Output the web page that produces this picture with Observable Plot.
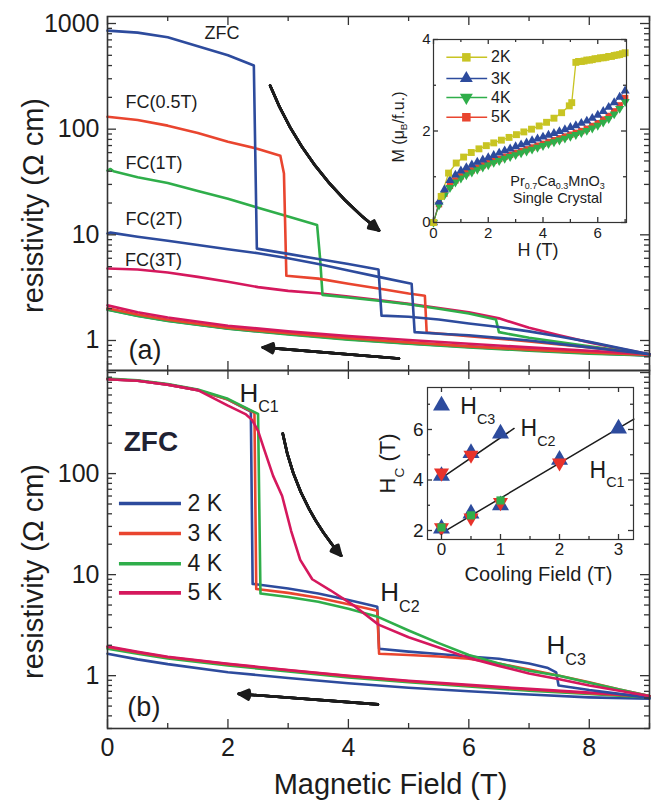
<!DOCTYPE html>
<html><head><meta charset="utf-8">
<script src="https://cdn.jsdelivr.net/npm/d3@7"></script>
<script src="https://cdn.jsdelivr.net/npm/@observablehq/plot@0.6"></script>
<style>
body{margin:0;background:#fff;font-family:"Liberation Sans",Arial,Helvetica,sans-serif;}
#wrap{position:relative;width:652px;height:800px;overflow:hidden;background:#fff;}
</style></head><body><div id="wrap"></div>
<script>
// ================= DATA =================
// ---- Panel (a): 2 K field sweeps after ZFC / FC (up-sweep then down-sweep)
const aZFC_H = [0, 0.5, 1, 1.5, 2, 2.43, 2.48, 3, 3.5, 4, 4.5, 4.55, 5, 5.5, 6, 6.5, 7, 7.5, 8, 8.5, 9];
const aZFC_R = [857, 820, 740, 610, 500, 400, 7.4, 6.6, 5.9, 5.3, 4.7, 1.72, 1.68, 1.58, 1.45, 1.34, 1.22, 1.09, 0.97, 0.85, 0.74];
const aFC05_H = [0, 0.5, 1, 1.5, 2, 2.5, 2.87, 2.93, 2.97, 3.5, 4, 4.5, 5, 5.27, 5.3, 6, 7, 8, 9];
const aFC05_R = [131, 122, 108, 92, 76, 65, 56, 38, 4.1, 3.85, 3.45, 3.1, 2.78, 2.65, 1.19, 1.1, 0.98, 0.86, 0.74];
const aFC1_H = [0, 0.05, 0.1, 0.5, 1, 1.5, 2, 2.5, 3, 3.48, 3.53, 3.57, 4, 4.5, 5, 5.5, 6, 6.45, 6.5, 7, 8, 9];
const aFC1_R = [40.5, 42, 40, 35, 31, 26, 22, 18, 14.9, 12.4, 6, 2.7, 2.55, 2.38, 2.2, 2.0, 1.8, 1.58, 1.2, 1.06, 0.88, 0.74];
const aFC2_H = [0, 0.05, 0.5, 1, 1.5, 2, 2.5, 3, 3.5, 4, 4.5, 5.05, 5.1, 5.5, 6, 7, 8, 9];
const aFC2_R = [10.3, 10.5, 9.6, 8.8, 8.0, 7.3, 6.7, 6.0, 5.3, 4.6, 4.0, 3.45, 1.2, 1.16, 1.12, 1.0, 0.86, 0.74];
const aFC3_H = [0, 0.5, 1, 1.5, 2, 2.5, 3, 3.5, 4, 4.5, 5, 5.5, 6, 6.5, 7, 7.5, 8, 8.5, 9];
const aFC3_R = [4.8, 4.7, 4.4, 4.0, 3.6, 3.2, 2.95, 2.8, 2.6, 2.42, 2.22, 2.03, 1.85, 1.62, 1.32, 1.12, 0.96, 0.84, 0.74];
const aDown_H = [0, 0.5, 1, 2, 3, 4, 5, 6, 7, 8, 9];
const aDownZFC_R = [1.97, 1.72, 1.54, 1.3, 1.15, 1.03, 0.94, 0.87, 0.81, 0.76, 0.72];
const aDownFC05_R = [2.02, 1.76, 1.57, 1.32, 1.17, 1.05, 0.96, 0.88, 0.82, 0.77, 0.73];
const aDownFC1_R = [1.95, 1.71, 1.53, 1.29, 1.14, 1.02, 0.93, 0.86, 0.8, 0.75, 0.72];
const aDownFC2_R = [2.0, 1.74, 1.56, 1.31, 1.16, 1.04, 0.95, 0.88, 0.82, 0.77, 0.72];
const aDownFC3_R = [2.15, 1.85, 1.65, 1.38, 1.22, 1.1, 1.01, 0.93, 0.86, 0.8, 0.74];

// ---- Panel (b): ZFC sweeps at 2,3,4,5 K
const b2K_H = [0, 0.5, 1, 1.5, 2, 2.38, 2.41, 3, 3.5, 4, 4.48, 4.51, 5, 5.5, 6, 6.5, 7, 7.3, 7.45, 7.49, 8, 8.5, 9];
const b2K_R = [860, 830, 760, 670, 540, 410, 8.1, 7.3, 6.5, 5.6, 4.8, 1.85, 1.73, 1.64, 1.55, 1.47, 1.32, 1.2, 1.08, 0.8, 0.72, 0.66, 0.6];
const b3K_H = [0, 0.5, 1, 1.5, 2, 2.44, 2.47, 3, 3.5, 4, 4.48, 4.51, 5, 5.5, 6, 6.5, 7, 7.5, 8, 8.5, 9];
const b3K_R = [860, 830, 760, 670, 540, 400, 7.2, 6.6, 5.9, 5.1, 4.4, 1.65, 1.6, 1.55, 1.47, 1.32, 1.15, 1.0, 0.86, 0.73, 0.63];
const b4K_H = [0, 0.5, 1, 1.5, 2, 2.5, 2.54, 3, 3.5, 4, 4.5, 5, 5.5, 6, 6.5, 7, 7.5, 8, 8.5, 9];
const b4K_R = [870, 840, 770, 680, 550, 390, 6.5, 6.0, 5.4, 4.6, 3.8, 2.8, 2.1, 1.6, 1.32, 1.12, 1.0, 0.85, 0.73, 0.63];
const b5K_H = [0, 0.5, 1, 1.5, 2, 2.3, 2.4, 2.5, 2.6, 2.75, 2.9, 3.05, 3.2, 3.4, 3.7, 4.1, 4.5, 5, 5.5, 6, 6.5, 7, 7.5, 8, 8.5, 9];
const b5K_R = [860, 830, 760, 670, 470, 385, 340, 265, 175, 95, 60, 27, 14, 9, 7, 4.9, 3.2, 2.4, 1.9, 1.5, 1.25, 1.05, 0.92, 0.8, 0.71, 0.63];
const bDown_H = [0, 0.5, 1, 2, 3, 4, 5, 6, 7, 8, 9];
const bDown2K_R = [1.65, 1.45, 1.3, 1.08, 0.95, 0.84, 0.76, 0.7, 0.65, 0.61, 0.59];
const bDown3K_R = [1.92, 1.7, 1.52, 1.3, 1.13, 0.99, 0.88, 0.8, 0.73, 0.67, 0.62];
const bDown4K_R = [1.85, 1.65, 1.48, 1.26, 1.1, 0.96, 0.86, 0.78, 0.71, 0.66, 0.61];
const bDown5K_R = [1.95, 1.72, 1.54, 1.31, 1.14, 1.0, 0.89, 0.81, 0.74, 0.68, 0.63];

// ---- Inset (a): magnetization M (muB/f.u.) vs H (T)
const m2K_H = [0, 0.28, 0.55, 0.83, 1.1, 1.38, 1.66, 1.93, 2.2, 2.48, 2.76, 3.03, 3.3, 3.58, 3.86, 4.13, 4.4, 4.68, 4.96, 5.05, 5.2, 5.3, 5.4, 5.5, 5.6, 5.7, 5.8, 5.9, 6.0, 6.1, 6.2, 6.3, 6.4, 6.5, 6.6, 6.7, 6.8, 6.9, 7.0];
const m2K_M = [0, 0.57, 1.08, 1.3, 1.43, 1.53, 1.61, 1.68, 1.74, 1.8, 1.86, 1.92, 1.98, 2.04, 2.11, 2.19, 2.28, 2.4, 2.55, 2.62, 3.5, 3.52, 3.52, 3.53, 3.55, 3.55, 3.56, 3.58, 3.58, 3.6, 3.6, 3.61, 3.63, 3.63, 3.65, 3.66, 3.67, 3.69, 3.71];
const mT_H = [0, 0.2, 0.4, 0.6, 0.8, 1.0, 1.2, 1.4, 1.6, 1.8, 2.0, 2.2, 2.4, 2.6, 2.8, 3.0, 3.2, 3.4, 3.6, 3.8, 4.0, 4.2, 4.4, 4.6, 4.8, 5.0, 5.2, 5.4, 5.6, 5.8, 6.0, 6.2, 6.4, 6.6, 6.8, 7.0];
const m3K_M = [0, 0.45, 0.72, 0.92, 1.04, 1.13, 1.2, 1.26, 1.32, 1.37, 1.42, 1.47, 1.52, 1.57, 1.61, 1.66, 1.7, 1.74, 1.79, 1.83, 1.87, 1.91, 1.95, 1.99, 2.03, 2.08, 2.12, 2.17, 2.22, 2.28, 2.35, 2.43, 2.52, 2.62, 2.74, 2.88];
const m4K_M = [0, 0.38, 0.6, 0.76, 0.88, 0.97, 1.04, 1.1, 1.16, 1.21, 1.26, 1.31, 1.35, 1.4, 1.44, 1.48, 1.52, 1.56, 1.6, 1.64, 1.68, 1.72, 1.76, 1.8, 1.84, 1.88, 1.92, 1.96, 2.01, 2.06, 2.12, 2.19, 2.27, 2.37, 2.49, 2.64];
const m5K_M = [0, 0.4, 0.63, 0.8, 0.92, 1.01, 1.08, 1.14, 1.2, 1.25, 1.3, 1.35, 1.39, 1.44, 1.48, 1.52, 1.56, 1.6, 1.64, 1.68, 1.72, 1.76, 1.8, 1.84, 1.88, 1.92, 1.96, 2.0, 2.05, 2.11, 2.17, 2.25, 2.33, 2.43, 2.56, 2.72];

// ---- Inset (b): critical fields vs cooling field
const hc1Blue_cf = [0, 0.5, 1, 2, 3];  const hc1Blue = [2.08, 2.67, 3.0, 4.8, 6.04];
const hc1Red_cf = [0, 0.5, 1, 2];      const hc1Red = [2.12, 2.5, 3.11, 4.68];
const hc1Green_cf = [0, 0.5, 1];       const hc1Green = [2.12, 2.6, 3.19];
const hc2Blue_cf = [0, 0.5, 1];        const hc2Blue = [4.16, 5.07, 5.84];
const hc2Red_cf = [0, 0.5];            const hc2Red = [4.28, 4.99];
const hc3_cf = [0];                    const hc3 = [6.95];
const hc1Fit_cf = [-0.02, 3.26];       const hc1Fit = [1.87, 6.41];
const hc2Fit_cf = [-0.02, 1.23];       const hc2Fit = [4.04, 6.04];

// ---- tick labels
const mainXTicks = [0, 2, 4, 6, 8];
const aYTicks = [1, 10, 100, 1000];
const bYTicks = [1, 10, 100];
const insAXTicks = [0, 2, 4, 6];
const insAYTicks = [0, 2, 4];
const insBXTicks = [0, 1, 2, 3];
const insBYTicks = [2, 4, 6];

// ---- labels / annotations (data coordinates)
const aLabels = [
  {x: 1.61, y: 720, t: "ZFC", s: 18},
  {x: 0.3, y: 157, t: "FC(0.5T)", s: 18},
  {x: 0.3, y: 42.4, t: "FC(1T)", s: 18},
  {x: 0.3, y: 12.3, t: "FC(2T)", s: 18},
  {x: 0.29, y: 5.1, t: "FC(3T)", s: 18},
  {x: 0.35, y: 0.675, t: "(a)", s: 27}
];
const bLabels = [
  {x: 2.19, y: 516, t: "H_{C1}", s: 26},
  {x: 4.53, y: 5.5, t: "H_{C2}", s: 26},
  {x: 7.29, y: 1.65, t: "H_{C3}", s: 26},
  {x: 0.33, y: 0.4, t: "(b)", s: 27}
];
const bZFC = [{x: 0.27, y: 169, t: "ZFC"}];
const bLegendNames = ["2 K", "3 K", "4 K", "5 K"];
const bLegendY = [50.5, 25.5, 12.8, 6.6];
const bLegendX = [0.19, 1.22, 1.33];
const aArrowCurved = [{x1: 2.7, y1: 259, x2: 4.51, y2: 11}];
const aArrowStraight = [{x1: 4.84, y1: 0.676, x2: 2.58, y2: 0.86}];
const bArrowCurved = [{x1: 2.91, y1: 249, x2: 3.88, y2: 15.4}];
const bArrowStraight = [{x1: 4.49, y1: 0.52, x2: 2.18, y2: 0.66}];
const insALegendNames = ["2K", "3K", "4K", "5K"];
const insALegendY = [3.61, 3.15, 2.73, 2.30];
const insALegendX = [0.47, 1.2, 1.96, 2.1];
const insAText = [{x: 4.53, y: 0.8, t: "Pr_{0.7}Ca_{0.3}MnO_{3}"}, {x: 4.53, y: 0.43, t: "Single Crystal"}];
const insBLabels = [
  {x: 0.32, y: 6.62, t: "H_{C3}"},
  {x: 1.34, y: 5.75, t: "H_{C2}"},
  {x: 2.51, y: 4.09, t: "H_{C1}"}
];

// ================= STYLE =================
const C = {blue: "#2d4b9d", red: "#e9452f", green: "#2fae4a", magenta: "#d5185d", olive: "#c8c423", ink: "#1c1c1c", axis: "#333"};
const FONT = "Liberation Sans, Arial, Helvetica, sans-serif";
const SVGSTYLE = `background: transparent; overflow: visible; font-family: ${FONT};`;
const fmt = d => String(d);
const LW = 2.6;

// ================= HELPERS =================
const rows = (id, xs, ys, color) => xs.map((x, i) => ({id, x, y: ys[i], color}));
const logMinor = (domain, majors) => d3.scaleLog().domain(domain).ticks().filter(t => !majors.includes(t) && t >= domain[0] && t <= domain[1]);

function frameTicks({xMaj, xMin, yMaj, yMin, pw, ph, maj, min, top = true, bottom = true}) {
  const st = {stroke: C.axis, strokeWidth: 1.3};
  const m = [];
  m.push(Plot.tickY(yMaj, {y: d => d, insetRight: pw - maj, ...st}));
  m.push(Plot.tickY(yMin, {y: d => d, insetRight: pw - min, ...st}));
  m.push(Plot.tickY(yMaj, {y: d => d, insetLeft: pw - maj, ...st}));
  m.push(Plot.tickY(yMin, {y: d => d, insetLeft: pw - min, ...st}));
  if (top) {
    m.push(Plot.tickX(xMaj, {x: d => d, insetBottom: ph - maj, ...st}));
    m.push(Plot.tickX(xMin, {x: d => d, insetBottom: ph - min, ...st}));
  }
  if (bottom) {
    m.push(Plot.tickX(xMaj, {x: d => d, insetTop: ph - maj, ...st}));
    m.push(Plot.tickX(xMin, {x: d => d, insetTop: ph - min, ...st}));
  }
  return m;
}

function arrows(data, bend) {
  return [52, 38, 24, 10, 0].map(a => Plot.arrow(data, {
    x1: "x1", y1: "y1", x2: "x2", y2: "y2", bend,
    headAngle: a, headLength: 6.5, stroke: C.ink, strokeWidth: 2.6
  }));
}

function subify(svg) {
  svg.querySelectorAll("text").forEach(el => {
    const s = el.textContent;
    if (!s.includes("_{")) return;
    const fs = parseFloat(getComputedStyle(el).fontSize) || 16;
    const parts = s.split(/(_\{[^}]*\})/).filter(p => p.length);
    while (el.firstChild) el.removeChild(el.firstChild);
    const shift = fs * (fs < 18 ? 0.24 : 0.42);
    let shifted = false;
    for (const p of parts) {
      const ts = document.createElementNS("http://www.w3.org/2000/svg", "tspan");
      if (p.startsWith("_{")) {
        ts.textContent = p.slice(2, -1);
        ts.setAttribute("font-size", (fs * 0.62).toFixed(1));
        if (!shifted) { ts.setAttribute("dy", shift.toFixed(1)); shifted = true; }
      } else {
        ts.textContent = p;
        if (shifted) { ts.setAttribute("dy", (-shift).toFixed(1)); shifted = false; }
      }
      el.appendChild(ts);
    }
  });
}

const wrap = document.getElementById("wrap");
function place(svg, left, top) {
  svg.style.position = "absolute";
  svg.style.left = left + "px";
  svg.style.top = top + "px";
  wrap.appendChild(svg);
  subify(svg);
}

// ================= PANEL (a) =================
{
  const W = 652, H = 370, mL = 107, mR = 3, mT = 16, mB = 0;
  const yDom = [0.52, 1165];
  const down = [
    ...rows("dFC2", aDown_H, aDownFC2_R, C.blue),
    ...rows("dZFC", aDown_H, aDownZFC_R, C.blue),
    ...rows("dFC1", aDown_H, aDownFC1_R, C.green),
    ...rows("dFC05", aDown_H, aDownFC05_R, C.red),
    ...rows("dFC3", aDown_H, aDownFC3_R, C.magenta)
  ];
  const up = [
    ...rows("FC3", aFC3_H, aFC3_R, C.magenta),
    ...rows("FC1", aFC1_H, aFC1_R, C.green),
    ...rows("FC05", aFC05_H, aFC05_R, C.red),
    ...rows("FC2", aFC2_H, aFC2_R, C.blue),
    ...rows("ZFC", aZFC_H, aZFC_R, C.blue)
  ];
  const svg = Plot.plot({
    width: W, height: H, marginLeft: mL, marginRight: mR, marginTop: mT, marginBottom: mB,
    style: SVGSTYLE,
    x: {domain: [0, 9], axis: null},
    y: {type: "log", domain: yDom},
    color: {type: "identity"},
    marks: [
      Plot.line(down, {x: "x", y: "y", z: "id", stroke: "color", strokeWidth: LW}),
      Plot.line(up, {x: "x", y: "y", z: "id", stroke: "color", strokeWidth: LW}),
      ...arrows(aArrowCurved, -15),
      ...arrows(aArrowStraight, 0),
      Plot.text(aLabels, {x: "x", y: "y", text: "t", fontSize: "s", textAnchor: "start", lineAnchor: "bottom", fill: C.ink}),
      Plot.axisY({ticks: aYTicks, tickFormat: fmt, tickSize: 0, tickPadding: 8, fontSize: 25, label: null, fill: C.ink}),
      Plot.text(["resistivity (Ω cm)"], {frameAnchor: "left", textAnchor: "middle", rotate: -90, lineAnchor: "middle", dx: -74, dy: 12, fontSize: 29, fill: C.ink}),
      ...frameTicks({xMaj: mainXTicks, xMin: [1, 3, 5, 7, 9], yMaj: aYTicks, yMin: logMinor(yDom, aYTicks), pw: W - mL - mR, ph: H - mT - mB, maj: 9, min: 5}),
      Plot.frame({stroke: C.axis, strokeWidth: 1.6})
    ]
  });
  place(svg, 0, 0);
}

// ================= PANEL (b) =================
{
  const W = 652, H = 430, mL = 107, mR = 3, mT = 0, mB = 72;
  const yDom = [0.3, 1048];
  const down = [
    ...rows("d2", bDown_H, bDown2K_R, C.blue),
    ...rows("d4", bDown_H, bDown4K_R, C.green),
    ...rows("d3", bDown_H, bDown3K_R, C.red),
    ...rows("d5", bDown_H, bDown5K_R, C.magenta)
  ];
  const up = [
    ...rows("u2", b2K_H, b2K_R, C.blue),
    ...rows("u3", b3K_H, b3K_R, C.red),
    ...rows("u4", b4K_H, b4K_R, C.green),
    ...rows("u5", b5K_H, b5K_R, C.magenta)
  ];
  const legColors = [C.blue, C.red, C.green, C.magenta];
  const leg = bLegendNames.map((n, i) => ({n, y: bLegendY[i], color: legColors[i]}));
  const svg = Plot.plot({
    width: W, height: H, marginLeft: mL, marginRight: mR, marginTop: mT, marginBottom: mB,
    style: SVGSTYLE,
    x: {domain: [0, 9]},
    y: {type: "log", domain: yDom},
    color: {type: "identity"},
    marks: [
      Plot.line(down, {x: "x", y: "y", z: "id", stroke: "color", strokeWidth: LW}),
      Plot.line(up, {x: "x", y: "y", z: "id", stroke: "color", strokeWidth: LW}),
      ...arrows(bArrowCurved, -15),
      ...arrows(bArrowStraight, 0),
      Plot.link(leg, {x1: () => bLegendX[0], x2: () => bLegendX[1], y1: "y", y2: "y", stroke: "color", strokeWidth: 3.6}),
      Plot.text(leg, {x: () => bLegendX[2], y: "y", text: "n", textAnchor: "start", lineAnchor: "middle", fontSize: 23, fill: C.ink}),
      Plot.text(bZFC, {x: "x", y: "y", text: "t", textAnchor: "start", lineAnchor: "bottom", fontSize: 28, fontWeight: "bold", fill: "#1f2233"}),
      Plot.text(bLabels, {x: "x", y: "y", text: "t", fontSize: "s", textAnchor: "start", lineAnchor: "bottom", fill: C.ink}),
      Plot.axisY({ticks: bYTicks, tickFormat: fmt, tickSize: 0, tickPadding: 8, fontSize: 25, label: null, fill: C.ink}),
      Plot.axisX({ticks: mainXTicks, tickFormat: fmt, tickSize: 0, tickPadding: 10, fontSize: 25, label: null, fill: C.ink}),
      Plot.text(["resistivity (Ω cm)"], {frameAnchor: "left", textAnchor: "middle", rotate: -90, lineAnchor: "middle", dx: -74, dy: 22, fontSize: 29, fill: C.ink}),
      Plot.text(["Magnetic Field (T)"], {frameAnchor: "bottom", textAnchor: "middle", lineAnchor: "middle", dx: 12, dy: 56, fontSize: 29, fill: C.ink}),
      ...frameTicks({xMaj: mainXTicks, xMin: [1, 3, 5, 7, 9], yMaj: [1, 10, 100, 1000], yMin: logMinor(yDom, [1, 10, 100, 1000]), pw: W - mL - mR, ph: H - mT - mB, maj: 9, min: 5}),
      Plot.frame({stroke: C.axis, strokeWidth: 1.6})
    ]
  });
  place(svg, 0, 370);
}

// ================= INSET (a) =================
{
  const W = 282, H = 250, mL = 63, mR = 26, mT = 14, mB = 53;
  const legCols = [C.olive, C.blue, C.green, C.red];
  const legSym = ["square", "triangle", "triangle", "square"];
  const legRot = [0, 0, 180, 0];
  const leg = insALegendNames.map((n, i) => ({n, y: insALegendY[i], c: legCols[i], s: legSym[i], r: legRot[i]}));
  const s2 = rows("2K", m2K_H, m2K_M, C.olive);
  const s3 = rows("3K", mT_H, m3K_M, C.blue);
  const s4 = rows("4K", mT_H, m4K_M, C.green);
  const s5 = rows("5K", mT_H, m5K_M, C.red);
  const svg = Plot.plot({
    width: W, height: H, marginLeft: mL, marginRight: mR, marginTop: mT, marginBottom: mB,
    style: SVGSTYLE,
    x: {domain: [0, 7.05]},
    y: {domain: [0, 4]},
    color: {type: "identity"},
    marks: [
      Plot.line(s2, {x: "x", y: "y", stroke: C.olive, strokeWidth: 1.3}),
      Plot.line(s3, {x: "x", y: "y", stroke: C.blue, strokeWidth: 1}),
      Plot.line(s5, {x: "x", y: "y", stroke: C.red, strokeWidth: 1}),
      Plot.line(s4, {x: "x", y: "y", stroke: C.green, strokeWidth: 1}),
      Plot.dot(s5, {x: "x", y: "y", symbol: "square", r: 3.6, fill: C.red}),
      Plot.dot(s4, {x: "x", y: "y", symbol: "triangle", r: 3.4, fill: C.green, rotate: 180}),
      Plot.dot(s3, {x: "x", y: "y", symbol: "triangle", r: 3.4, fill: C.blue}),
      Plot.dot(s2, {x: "x", y: "y", symbol: "square", r: 3.9, fill: C.olive}),
      Plot.link(leg, {x1: () => insALegendX[0], x2: () => insALegendX[2], y1: "y", y2: "y", stroke: "c", strokeWidth: 1.5}),
      Plot.dot(leg, {x: () => insALegendX[1], y: "y", symbol: "s", rotate: "r", r: 4.8, fill: "c"}),
      Plot.text(leg, {x: () => insALegendX[3], y: "y", text: "n", textAnchor: "start", lineAnchor: "middle", fontSize: 16, fill: C.ink}),
      Plot.text(insAText, {x: "x", y: "y", text: "t", textAnchor: "middle", lineAnchor: "bottom", fontSize: 14.5, fill: C.ink}),
      Plot.axisX({ticks: insAXTicks, tickFormat: fmt, tickSize: 0, tickPadding: 5, fontSize: 15, label: null, fill: C.ink}),
      Plot.axisY({ticks: insAYTicks, tickFormat: fmt, tickSize: 0, tickPadding: 3, fontSize: 15, label: null, fill: C.ink}),
      Plot.text(["H (T)"], {frameAnchor: "bottom", textAnchor: "middle", lineAnchor: "middle", dx: 8, dy: 28, fontSize: 18, fill: C.ink}),
      Plot.text(["M (μ_{B}/f.u.)"], {frameAnchor: "left", textAnchor: "middle", rotate: -90, lineAnchor: "middle", dx: -35, dy: -4, fontSize: 16, fill: C.ink}),
      ...frameTicks({xMaj: [0, 2, 4, 6], xMin: [1, 3, 5, 7], yMaj: [0, 2, 4], yMin: [1, 3], pw: W - mL - mR, ph: H - mT - mB, maj: 5, min: 3}),
      Plot.frame({stroke: C.axis, strokeWidth: 1.2})
    ]
  });
  place(svg, 370, 25);
}

// ================= INSET (b) =================
{
  const W = 297, H = 210, mL = 72, mR = 19, mT = 7, mB = 51;
  const svg = Plot.plot({
    width: W, height: H, marginLeft: mL, marginRight: mR, marginTop: mT, marginBottom: mB,
    style: SVGSTYLE,
    x: {domain: [-0.237, 3.254]},
    y: {domain: [1.644, 7.663]},
    marks: [
      Plot.line(rows("f1", hc1Fit_cf, hc1Fit, C.ink), {x: "x", y: "y", stroke: C.ink, strokeWidth: 1.5}),
      Plot.line(rows("f2", hc2Fit_cf, hc2Fit, C.ink), {x: "x", y: "y", stroke: C.ink, strokeWidth: 1.5}),
      Plot.dot(rows("b1", hc1Blue_cf, hc1Blue), {x: "x", y: "y", symbol: "triangle", r: 6.3, fill: C.blue}),
      Plot.dot(rows("b2", hc2Blue_cf, hc2Blue), {x: "x", y: "y", symbol: "triangle", r: 6.3, fill: C.blue}),
      Plot.dot(rows("b3", hc3_cf, hc3), {x: "x", y: "y", symbol: "triangle", r: 6.3, fill: C.blue}),
      Plot.dot(rows("r1", hc1Red_cf, hc1Red), {x: "x", y: "y", symbol: "triangle", r: 5.6, rotate: 180, fill: "#e8322a"}),
      Plot.dot(rows("r2", hc2Red_cf, hc2Red), {x: "x", y: "y", symbol: "triangle", r: 5.6, rotate: 180, fill: "#e8322a"}),
      Plot.dot(rows("g1", hc1Green_cf, hc1Green), {x: "x", y: "y", symbol: "square", r: 4.6, fill: C.green}),
      Plot.text(insBLabels, {x: "x", y: "y", text: "t", textAnchor: "start", lineAnchor: "bottom", fontSize: 23, fill: C.ink}),
      Plot.axisX({ticks: insBXTicks, tickFormat: fmt, tickSize: 0, tickPadding: 3, fontSize: 17, label: null, fill: C.ink}),
      Plot.axisY({ticks: insBYTicks, tickFormat: fmt, tickSize: 0, tickPadding: 4, fontSize: 19, label: null, fill: C.ink}),
      Plot.text(["Cooling Field (T)"], {frameAnchor: "bottom", textAnchor: "middle", lineAnchor: "middle", dx: 8, dy: 35, fontSize: 20, fill: C.ink}),
      Plot.text(["H_{C} (T)"], {frameAnchor: "left", textAnchor: "middle", rotate: -90, lineAnchor: "middle", dx: -40, dy: 0, fontSize: 22, fill: C.ink}),
      ...frameTicks({xMaj: [0, 1, 2, 3], xMin: [0.5, 1.5, 2.5], yMaj: [2, 4, 6], yMin: [3, 5, 7], pw: W - mL - mR, ph: H - mT - mB, maj: 5, min: 3}),
      Plot.frame({stroke: C.axis, strokeWidth: 1.2})
    ]
  });
  place(svg, 355, 380);
}
</script></body></html>
